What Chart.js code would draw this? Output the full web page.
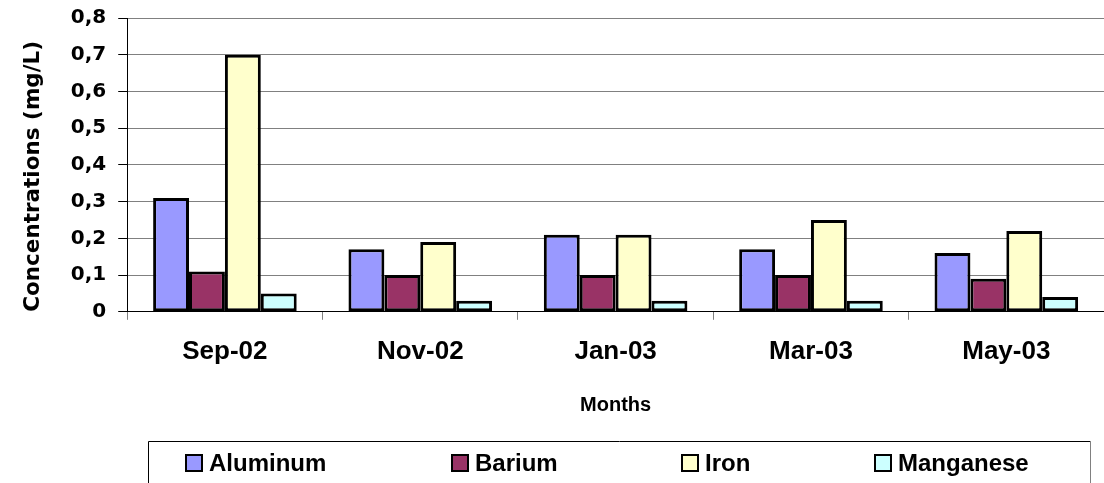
<!DOCTYPE html>
<html>
<head>
<meta charset="utf-8">
<script src="https://cdn.jsdelivr.net/npm/chart.js@4/dist/chart.umd.min.js"></script>
<style>
  html, body { margin: 0; padding: 0; background: #fff; }
  #wrap { width: 1104px; height: 483px; }
</style>
</head>
<body>
<div id="wrap"><canvas id="myChart" width="1104" height="483"></canvas></div>
<script>
const months = ["Sep-02", "Nov-02", "Jan-03", "Mar-03", "May-03"];
const aluminum = [0.31, 0.17, 0.21, 0.17, 0.16];
const barium = [0.11, 0.1, 0.1, 0.1, 0.09];
const iron = [0.7, 0.19, 0.21, 0.25, 0.22];
const manganese = [0.05, 0.03, 0.03, 0.03, 0.04];
const yTickLabels = ["0", "0,1", "0,2", "0,3", "0,4", "0,5", "0,6", "0,7", "0,8"];

const seriesNames = ["Aluminum", "Barium", "Iron", "Manganese"];
const seriesColors = ["#9999FF", "#993366", "#FFFFCC", "#CCFFFF"];
const seriesData = [aluminum, barium, iron, manganese];

// legend sits in a framed box under the axis title, like the excel one
const legendX = [186, 452, 682, 875];
const boxLegend = {
  id: "boxLegend",
  afterDraw(chart) {
    const ctx = chart.ctx;
    ctx.save();
    ctx.lineWidth = 1;
    ctx.strokeStyle = "#000";
    ctx.beginPath();
    ctx.moveTo(148.5, 500);
    ctx.lineTo(148.5, 441.5);
    ctx.lineTo(1090.5, 441.5);
    ctx.stroke();
    ctx.strokeStyle = "#808080";
    ctx.beginPath();
    ctx.moveTo(1090.5, 441.5);
    ctx.lineTo(1090.5, 500);
    ctx.stroke();

    ctx.font = "bold 24px 'Liberation Sans'";
    ctx.textBaseline = "middle";
    chart.data.datasets.forEach((ds, i) => {
      let x = legendX[i];
      ctx.fillStyle = ds.backgroundColor;
      ctx.fillRect(x, 455, 16, 16);
      ctx.lineWidth = 2;
      ctx.strokeStyle = "#000";
      ctx.strokeRect(x, 455, 16, 16);
      ctx.fillStyle = "#000";
      ctx.fillText(ds.label, x + 23, 464);
    });
    ctx.restore();
  },
};

new Chart("myChart", {
  type: "bar",
  data: {
    labels: months,
    datasets: seriesNames.map((name, i) => ({
      label: name,
      data: seriesData[i],
      backgroundColor: seriesColors[i],
      borderColor: "#000",
      borderWidth: 3,
      borderSkipped: false,
      categoryPercentage: 0.735,
      barPercentage: 1,
    })),
  },
  options: {
    responsive: false,
    animation: false,
    layout: { padding: { left: 21, top: 18, right: 0, bottom: 66 } },
    plugins: {
      legend: { display: false },
      tooltip: { enabled: false },
    },
    scales: {
      x: {
        grid: {
          offset: true,
          drawOnChartArea: false,
          tickLength: 8,
          color: "#808080",
        },
        border: { color: "#000", width: 1 },
        ticks: {
          padding: 16,
          color: "#000",
          font: { family: "Liberation Sans", size: 26, weight: "bold" },
        },
        title: {
          display: true,
          text: "Months",
          color: "#000",
          padding: { top: 10, bottom: 0 },
          font: { family: "Liberation Sans", size: 20, weight: "bold" },
        },
      },
      y: {
        min: 0,
        max: 0.8,
        ticks: {
          stepSize: 0.1,
          padding: 12,
          color: "#000",
          font: { family: "DejaVu Sans", size: 20, weight: "bold", lineHeight: 0.6 },
          callback: (v, idx) => yTickLabels[idx],
        },
        grid: { color: "#808080", tickColor: "#000", tickLength: 9 },
        border: { color: "#000", width: 1 },
        title: {
          display: true,
          text: "Concentrations (mg/L)",
          align: "start",
          color: "#000",
          padding: { top: 0, bottom: 12 },
          font: { family: "DejaVu Sans", size: 21.5, weight: "bold" },
        },
      },
    },
  },
  plugins: [boxLegend],
});
</script>
</body>
</html>
